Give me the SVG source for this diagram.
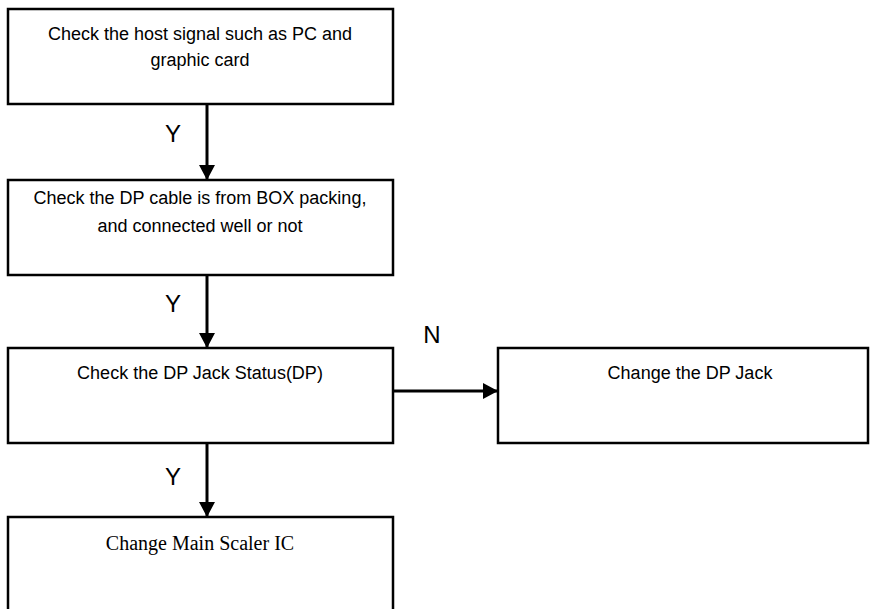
<svg xmlns="http://www.w3.org/2000/svg" width="870" height="609" viewBox="0 0 870 609">
<style>
.box{fill:#fff;stroke:#000;stroke-width:2.5}
.t{font-family:"Liberation Sans",Arial,sans-serif;font-size:18px;fill:#000;text-anchor:middle}
.s{font-family:"Liberation Serif","Times New Roman",serif;font-size:20px;fill:#000;text-anchor:middle}
.lbl{font-family:"Liberation Sans",Arial,sans-serif;font-size:24px;fill:#000;text-anchor:middle}
.c{stroke:#000;stroke-width:3;fill:none}
</style>
<defs>
<marker id="ah" markerUnits="userSpaceOnUse" markerWidth="16" markerHeight="16" refX="15" refY="8" orient="auto">
<path d="M0,0 L15,8 L0,16 Z" fill="#000"/>
</marker>
</defs>
<g id="n1"><rect class="box" x="8" y="9" width="385" height="95"/>
<text class="t" x="200" y="40">Check the host signal such as PC and</text>
<text class="t" x="200" y="66">graphic card</text></g>
<g id="n2"><rect class="box" x="8" y="180" width="385" height="95"/>
<text class="t" x="200" y="204">Check the DP cable is from BOX packing,</text>
<text class="t" x="200" y="232">and connected well or not</text></g>
<g id="n3"><rect class="box" x="8" y="348" width="385" height="95"/>
<text class="t" x="200" y="379">Check the DP Jack Status(DP)</text></g>
<g id="n4"><rect class="box" x="498" y="348" width="370" height="95"/>
<text class="t" x="690" y="379">Change the DP Jack</text></g>
<g id="n5"><rect class="box" x="8" y="517" width="385" height="100"/>
<text class="s" x="200" y="550">Change Main Scaler IC</text></g>
<g id="connectors">
<line class="c" x1="207" y1="104" x2="207" y2="180" marker-end="url(#ah)"/>
<line class="c" x1="207" y1="275" x2="207" y2="348" marker-end="url(#ah)"/>
<line class="c" x1="207" y1="443" x2="207" y2="517" marker-end="url(#ah)"/>
<line class="c" x1="393" y1="391" x2="498" y2="391" marker-end="url(#ah)"/>
<text class="lbl" x="173" y="142">Y</text>
<text class="lbl" x="173" y="312">Y</text>
<text class="lbl" x="173" y="485">Y</text>
<text class="lbl" x="432" y="343">N</text>
</g>
</svg>
